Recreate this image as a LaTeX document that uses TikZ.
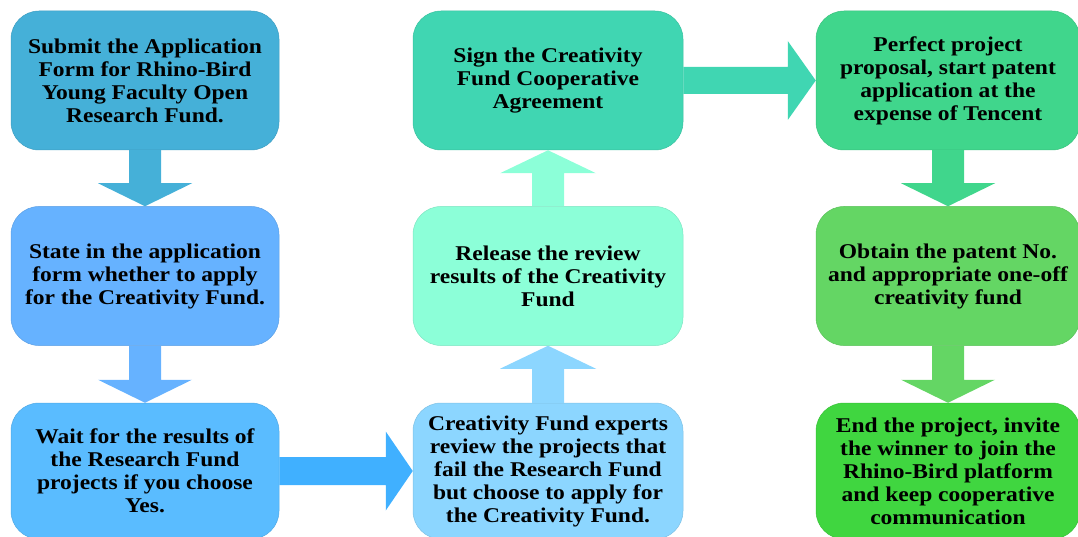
\documentclass[tikz,border=0pt]{standalone}
\usepackage{fontspec}
\setmainfont{Liberation Serif}[FakeStretch=1.12]
\usepackage{xcolor}
\definecolor{fund1}{RGB}{69,176,216}
\definecolor{fund2}{RGB}{102,178,255}
\definecolor{fund3}{RGB}{90,188,255}
\definecolor{fund3arrow}{RGB}{64,176,255}
\definecolor{crea1}{RGB}{140,214,255}
\definecolor{crea2}{RGB}{140,255,216}
\definecolor{crea3}{RGB}{64,214,178}
\definecolor{pat1}{RGB}{64,214,140}
\definecolor{pat2}{RGB}{100,214,100}
\definecolor{pat3}{RGB}{64,214,64}
\tikzset{
	main node/.style={rounded corners=28pt,draw=#1!90!black,fill=#1,line width=0.5pt,
		minimum width=268pt,minimum height=139pt,inner sep=0pt,align=center,
		font=\fontsize{21}{23}\selectfont\bfseries},
	last node/.style={main node=#1,minimum height=136pt},
	block/.style={fill=#1}
}

\begin{document}
\begin{tikzpicture}[x=1pt,y=1pt]
	\clip (0,0) rectangle (1078,-537);
	\node [main node=fund1] (1) at (145,-80.5) {Submit the Application\\Form for Rhino-Bird\\Young Faculty Open\\Research Fund.};
	\node [main node=fund2] (2) at (145,-276) {State in the application\\form whether to apply\\for the Creativity Fund.};
	\node [last node=fund3] (3) at (145,-471) {Wait for the results of\\the Research Fund\\projects if you choose\\Yes.};
	\node [last node=crea1,minimum width=270pt] (4) at (548,-471) {Creativity Fund experts\\review the projects that\\fail the Research Fund\\but choose to apply for\\the Creativity Fund.};
	\node [main node=crea2,minimum width=270pt] (5) at (548,-276) {Release the review\\results of the Creativity\\Fund};
	\node [main node=crea3,minimum width=270pt] (6) at (548,-80.5) {Sign the Creativity\\Fund Cooperative\\Agreement};
	\node [main node=pat1,minimum width=264pt] (7) at (948,-80.5) {Perfect project\\proposal, start patent\\application at the\\expense of Tencent};
	\node [main node=pat2,minimum width=264pt] (8) at (948,-276) {Obtain the patent No.\\and appropriate one-off\\creativity fund};
	\node [last node=pat3,minimum width=264pt] (9) at (948,-471) {End the project, invite\\the winner to join the\\Rhino-Bird platform\\and keep cooperative\\communication};
	% block arrows
	\fill [block=fund1] ([xshift=-16pt]1.south) -- ([xshift=-16pt,yshift=23pt]2.north) -- ([xshift=-47pt,yshift=23pt]2.north)
		-- (2.north) -- ([xshift=47pt,yshift=23pt]2.north) -- ([xshift=16pt,yshift=23pt]2.north) -- ([xshift=16pt]1.south) -- cycle;
	\fill [block=fund2] ([xshift=-16pt]2.south) -- ([xshift=-16pt,yshift=23pt]3.north) -- ([xshift=-47pt,yshift=23pt]3.north)
		-- (3.north) -- ([xshift=47pt,yshift=23pt]3.north) -- ([xshift=16pt,yshift=23pt]3.north) -- ([xshift=16pt]2.south) -- cycle;
	\fill [block=fund3arrow] ([yshift=14pt]3.east) -- ([xshift=-27pt,yshift=14pt]4.west) -- ([xshift=-27pt,yshift=39.5pt]4.west)
		-- (4.west) -- ([xshift=-27pt,yshift=-39.5pt]4.west) -- ([xshift=-27pt,yshift=-14pt]4.west) -- ([yshift=-14pt]3.east) -- cycle;
	\fill [block=crea1] ([xshift=-16pt]4.north) -- ([xshift=-16pt,yshift=-23pt]5.south) -- ([xshift=-48pt,yshift=-23pt]5.south)
		-- (5.south) -- ([xshift=48pt,yshift=-23pt]5.south) -- ([xshift=16pt,yshift=-23pt]5.south) -- ([xshift=16pt]4.north) -- cycle;
	\fill [block=crea2] ([xshift=-16pt]5.north) -- ([xshift=-16pt,yshift=-23pt]6.south) -- ([xshift=-48pt,yshift=-23pt]6.south)
		-- (6.south) -- ([xshift=48pt,yshift=-23pt]6.south) -- ([xshift=16pt,yshift=-23pt]6.south) -- ([xshift=16pt]5.north) -- cycle;
	\fill [block=crea3] ([yshift=13.5pt]6.east) -- ([xshift=-28pt,yshift=13.5pt]7.west) -- ([xshift=-28pt,yshift=39.5pt]7.west)
		-- (7.west) -- ([xshift=-28pt,yshift=-39.5pt]7.west) -- ([xshift=-28pt,yshift=-13.5pt]7.west) -- ([yshift=-13.5pt]6.east) -- cycle;
	\fill [block=pat1] ([xshift=-16pt]7.south) -- ([xshift=-16pt,yshift=23pt]8.north) -- ([xshift=-47pt,yshift=23pt]8.north)
		-- (8.north) -- ([xshift=47pt,yshift=23pt]8.north) -- ([xshift=16pt,yshift=23pt]8.north) -- ([xshift=16pt]7.south) -- cycle;
	\fill [block=pat2] ([xshift=-16pt]8.south) -- ([xshift=-16pt,yshift=23pt]9.north) -- ([xshift=-47pt,yshift=23pt]9.north)
		-- (9.north) -- ([xshift=47pt,yshift=23pt]9.north) -- ([xshift=16pt,yshift=23pt]9.north) -- ([xshift=16pt]8.south) -- cycle;
\end{tikzpicture}
\end{document}
